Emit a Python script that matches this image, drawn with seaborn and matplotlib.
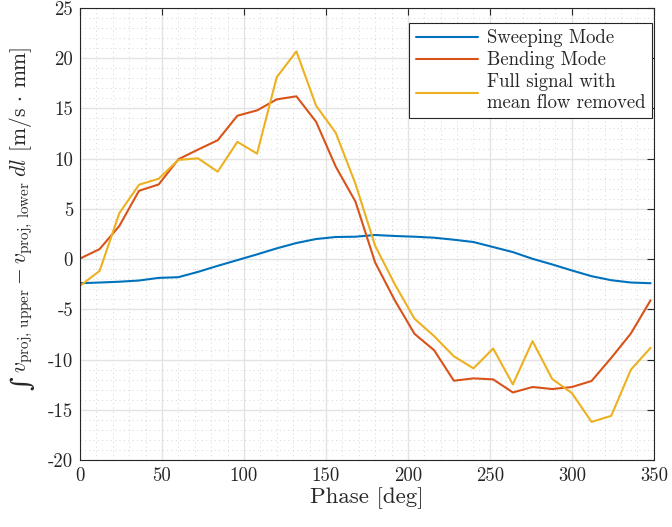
import numpy as np
import pandas as pd
import matplotlib
matplotlib.use("Agg")
import matplotlib.pyplot as plt
import seaborn as sns
from matplotlib.ticker import MultipleLocator

phase = [0, 12, 24, 36, 48, 60, 72, 84, 96, 108, 120, 132, 144, 156, 168,
         180, 192, 204, 216, 228, 240, 252, 264, 276, 288, 300, 312, 324, 336, 348]

sweeping = [-2.4, -2.33, -2.25, -2.13, -1.87, -1.8, -1.27, -0.67, -0.1, 0.47,
            1.07, 1.6, 2.0, 2.2, 2.23, 2.4, 2.3, 2.23, 2.13, 1.93,
            1.7, 1.2, 0.7, 0.03, -0.53, -1.13, -1.7, -2.1, -2.33, -2.4]

bending = [0.05, 1.0, 3.3, 6.8, 7.43, 9.93, 10.9, 11.83, 14.27, 14.8,
           15.9, 16.2, 13.67, 9.2, 5.73, -0.33, -4.1, -7.43, -9.07, -12.1,
           -11.87, -11.97, -13.27, -12.73, -12.93, -12.73, -12.13, -9.83, -7.4, -4.1]

full = [-2.67, -1.17, 4.57, 7.4, 8.0, 9.87, 10.03, 8.7, 11.67, 10.5,
        18.1, 20.67, 15.27, 12.57, 7.5, 1.33, -2.5, -5.93, -7.67, -9.67,
        -10.87, -8.9, -12.47, -8.17, -11.93, -13.33, -16.2, -15.6, -11.0, -8.83]

labels = ["Sweeping Mode", "Bending Mode", "Full signal with\nmean flow removed"]
colors = ["#0072BD", "#D95319", "#EDB120"]

df = pd.concat([
    pd.DataFrame({"Phase": phase, "Value": sweeping, "Series": labels[0]}),
    pd.DataFrame({"Phase": phase, "Value": bending, "Series": labels[1]}),
    pd.DataFrame({"Phase": phase, "Value": full, "Series": labels[2]}),
])

sns.set_style("white")
plt.rcParams["font.family"] = ["cmr10", "DejaVu Serif"]
plt.rcParams["mathtext.fontset"] = "cm"
plt.rcParams["axes.unicode_minus"] = False
plt.rcParams["axes.formatter.use_mathtext"] = False

fig, ax = plt.subplots(figsize=(6.72, 5.27), dpi=100)
fig.subplots_adjust(left=0.119, right=0.973, top=0.985, bottom=0.127)

sns.lineplot(data=df, x="Phase", y="Value", hue="Series", palette=colors,
             ax=ax, linewidth=1.5, sort=False)

ax.set_xlim(0, 350)
ax.set_ylim(-20, 25)
ax.xaxis.set_major_locator(MultipleLocator(50))
ax.xaxis.set_minor_locator(MultipleLocator(10))
ax.yaxis.set_major_locator(MultipleLocator(5))
ax.yaxis.set_minor_locator(MultipleLocator(1))
ax.grid(which="major", color="#e3e3e3", linewidth=1.0, linestyle="-")
ax.grid(which="minor", color="#cfcfcf", linewidth=0.6, linestyle=(0, (1.2, 4)))
ax.set_axisbelow(True)
ax.tick_params(which="major", direction="in", length=5, width=0.8,
               top=True, right=True, labelsize=13.5, colors="#262626", pad=5)
ax.tick_params(which="minor", length=0)
for s in ax.spines.values():
    s.set_color("#262626")
    s.set_linewidth(0.8)

ax.set_xlabel("Phase [deg]", fontsize=16.5, labelpad=2)
ax.set_ylabel(r"$v_{\mathrm{proj,\,upper}} - v_{\mathrm{proj,\,lower}}\; dl$ [m/s $\cdot$ mm]",
              fontsize=15.5)
ax.yaxis.set_label_coords(-0.079, 0.553)

handles, lbls = ax.get_legend_handles_labels()
leg = ax.legend(handles, lbls, loc="upper right", bbox_to_anchor=(0.997, 0.967),
                borderaxespad=0,
                fontsize=13.5, frameon=True, fancybox=False, framealpha=1,
                edgecolor="#262626", handlelength=3.3, labelspacing=0.2,
                borderpad=0.35, handletextpad=0.5)
leg.get_frame().set_linewidth(0.8)

# integral sign placed directly below the rotated y label
fig.canvas.draw()
r = fig.canvas.get_renderer()
bb = ax.yaxis.label.get_window_extent(r)
W, H = fig.bbox.width, fig.bbox.height
fig.text((bb.x0 + bb.width / 2 + 1) / W, (bb.y0 - 3) / H, "\u222b",
         family="DejaVu Serif", fontsize=19, rotation=90,
         ha="center", va="top", color="#262626")

fig.savefig("out.png", dpi=100)
